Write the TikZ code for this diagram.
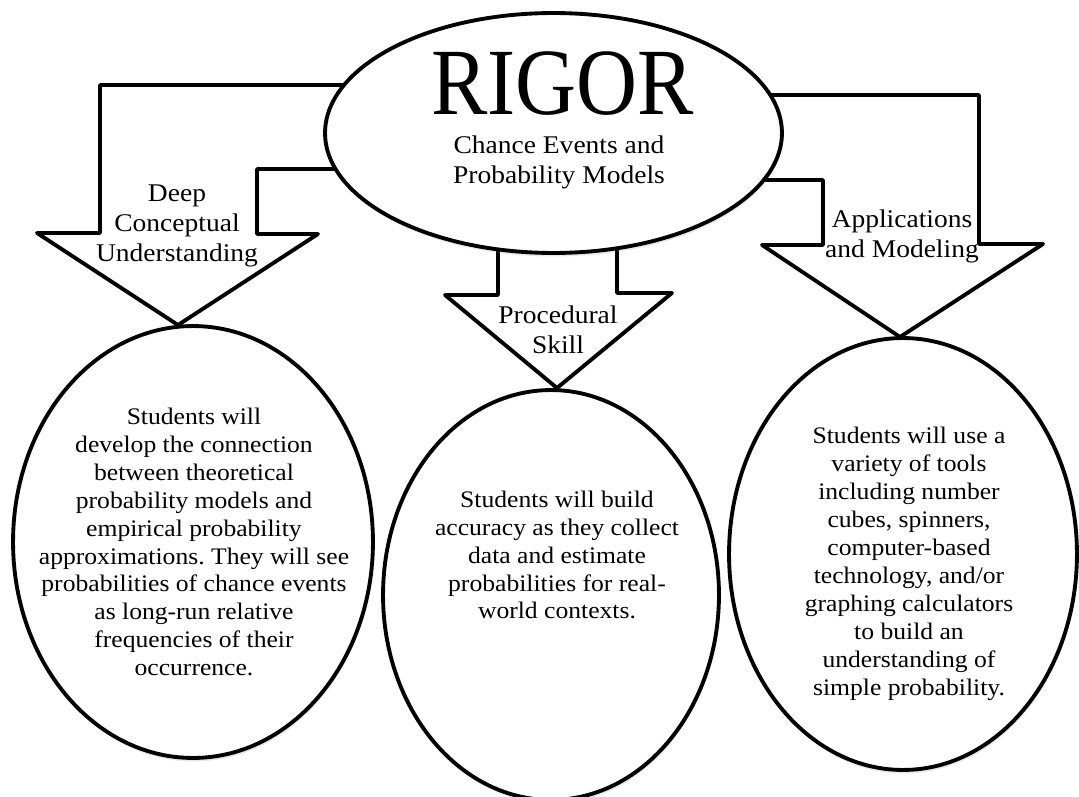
\documentclass[tikz,border=0pt]{standalone}
\usepackage{fontspec}
\setmainfont{Liberation Serif}[FakeStretch=1.08]
\newfontfamily\rigorfont{Liberation Serif}[FakeStretch=0.89]
\usetikzlibrary{shapes.geometric, shadows}
\frenchspacing

\begin{document}
\begin{tikzpicture}[
    x=0.02cm, y=-0.02cm,
    blob/.style={
      ellipse, draw, line width=2.2pt, fill=white, inner sep=0pt,
      drop shadow={shadow xshift=0.5pt, shadow yshift=-2pt, opacity=0.18}
    },
    bigarrow/.style={draw, line width=2.2pt, line join=round, fill=white},
    arrowtext/.style={align=center, font=\fontsize{14.5}{17}\selectfont, inner sep=0pt},
    bodytext/.style={align=center, font=\fontsize{13.5}{15.9}\selectfont, inner sep=0pt}
  ]
    \useasboundingbox (0,0) rectangle (1079,797);

    % bent block arrows, their ends hidden under the top ellipse
    \draw[bigarrow] (400,85) -- (100,85) -- (100,233) -- (37,233) -- (178,325)
      -- (318,234) -- (257,234) -- (257,169) -- (400,169) -- cycle;
    \draw[bigarrow] (700,95) -- (979,95) -- (979,244) -- (1043,244) -- (900,337)
      -- (762,245) -- (823,245) -- (823,180) -- (700,180) -- cycle;
    \draw[bigarrow] (498,200) -- (498,295) -- (445,295) -- (557,388)
      -- (672,293) -- (617,293) -- (617,200) -- cycle;

    \node[blob, minimum width=9.14cm, minimum height=4.8cm] (rigor) at (553.5,133) {};
    \node[font=\rigorfont\fontsize{54}{54}\selectfont, inner sep=0pt] (title) at (562.5,84) {RIGOR};
    \node[arrowtext] (topic) at (559,162) {Chance Events and\\Probability Models};

    \node[arrowtext] (deep) at (177,226) {Deep\\Conceptual\\Understanding};
    \node[arrowtext] (apps) at (902,236) {Applications\\and Modeling};
    \node[arrowtext] (proc) at (558,330) {Procedural\\Skill};

    \node[blob, minimum width=7.2cm, minimum height=8.64cm] (left) at (193,542) {};
    \node[blob, minimum width=6.72cm, minimum height=8.2cm] (mid) at (551,595) {};
    \node[blob, minimum width=6.96cm, minimum height=8.64cm] (right) at (903,554) {};

    \node[bodytext] (lefttext) at (194,542) {Students will\\develop the connection\\between theoretical\\probability models and\\empirical probability\\approximations. They will see\\probabilities of chance events\\as long-run relative\\frequencies of their\\occurrence.};
    \node[bodytext] (midtext) at (557,555) {Students will build\\accuracy as they collect\\data and estimate\\probabilities for real-\\world contexts.};
    \node[bodytext] (righttext) at (909,564) {Students will use a\\variety of tools\\including number\\cubes, spinners,\\computer-based\\technology, and/or\\graphing calculators\\to build an\\understanding of\\simple probability.};
  \end{tikzpicture}
\end{document}
